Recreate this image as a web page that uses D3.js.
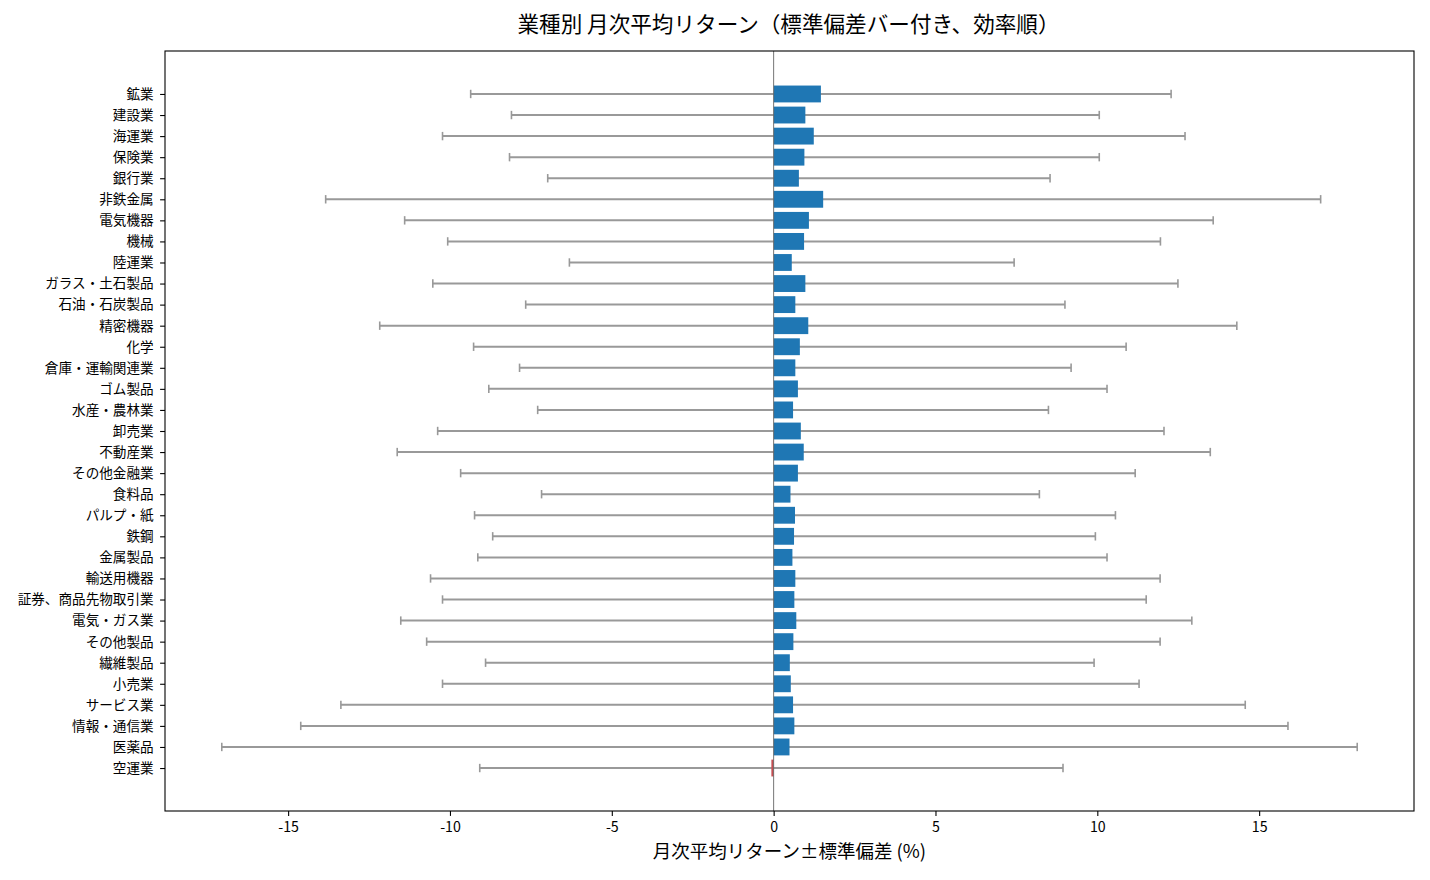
<!DOCTYPE html>
<html><head><meta charset="utf-8">
<script src="https://cdn.jsdelivr.net/npm/d3@7"></script>
<style>
body{margin:0;background:#fff;}
text{font-family:"Noto Sans CJK JP","Noto Sans",sans-serif;}
</style></head>
<body><svg id="chart" width="1430" height="880"></svg>
<script>
const categories = ["鉱業","建設業","海運業","保険業","銀行業","非鉄金属","電気機器","機械","陸運業","ガラス・土石製品","石油・石炭製品","精密機器","化学","倉庫・運輸関連業","ゴム製品","水産・農林業","卸売業","不動産業","その他金融業","食料品","パルプ・紙","鉄鋼","金属製品","輸送用機器","証券、商品先物取引業","電気・ガス業","その他製品","繊維製品","小売業","サービス業","情報・通信業","医薬品","空運業"];
const meanReturn = [1.46,0.98,1.24,0.95,0.78,1.53,1.09,0.94,0.56,0.98,0.67,1.07,0.81,0.67,0.75,0.60,0.84,0.93,0.75,0.52,0.66,0.63,0.58,0.67,0.64,0.70,0.61,0.50,0.53,0.60,0.64,0.49,-0.07];
const stdDev = [10.82,9.08,11.47,9.11,7.76,15.37,12.49,11.01,6.87,11.51,8.33,13.24,10.08,8.52,9.55,7.89,11.22,12.56,10.42,7.69,9.90,9.31,9.72,11.27,10.87,12.22,11.33,9.40,10.76,13.97,15.25,17.54,9.01];
const xTicks = [-15,-10,-5,0,5,10,15];

const svg = d3.select("#chart");
const L=165, R=1414, T=51, B=811;
const n = categories.length;
const lo = d3.min(meanReturn.map((m,i)=>m-stdDev[i]));
const hi = d3.max(meanReturn.map((m,i)=>m+stdDev[i]));
const mx = (hi-lo)*0.05;
const x = d3.scaleLinear().domain([lo-mx, hi+mx]).range([L,R]);
const ym = (n-1+0.8)*0.05;
const y = d3.scaleLinear().domain([-0.4-ym, n-1+0.4+ym]).range([T,B]);
const bh = y(0.8)-y(0);

const g = svg.append("g");
// error bars
const eb = g.append("g").attr("stroke","#999").attr("stroke-width",2);
categories.forEach((c,i)=>{
  const m=meanReturn[i], s=stdDev[i];
  eb.append("line").attr("x1",x(m-s)).attr("x2",x(m+s)).attr("y1",y(i)).attr("y2",y(i));
  [m-s,m+s].forEach(v=>eb.append("line").attr("stroke-width",1.6).attr("x1",x(v)).attr("x2",x(v)).attr("y1",y(i)-4.2).attr("y2",y(i)+4.2));
});
// bars
g.append("g").selectAll("rect").data(meanReturn).join("rect")
  .attr("x",d=>Math.min(x(0),x(d)))
  .attr("width",d=>Math.abs(x(d)-x(0)))
  .attr("y",(d,i)=>y(i)-bh/2).attr("height",bh)
  .attr("fill",d=>d>=0?"#1f77b4":"#c44e52");
// zero line
g.append("line").attr("x1",x(0)).attr("x2",x(0)).attr("y1",T).attr("y2",B)
  .attr("stroke","#666").attr("stroke-width",0.9);

// axes
const xAxis = svg.append("g").attr("transform",`translate(0,${B})`)
  .call(d3.axisBottom(x).tickValues(xTicks).tickSize(4.9).tickPadding(6.5).tickFormat(d=>d));
xAxis.select(".domain").remove();
xAxis.selectAll("text").attr("font-size",14.2).attr("fill","#000");
xAxis.selectAll("line").attr("stroke","#000").attr("stroke-width",1.1);

const yAxis = svg.append("g").attr("transform",`translate(${L},0)`)
  .call(d3.axisLeft(y).tickValues(d3.range(n)).tickSize(4.9).tickPadding(6.5).tickFormat(i=>categories[i]));
yAxis.select(".domain").remove();
yAxis.selectAll("text").attr("font-size",13.6).attr("fill","#000");
yAxis.selectAll("line").attr("stroke","#000").attr("stroke-width",1.1);

// frame
svg.append("rect").attr("x",L).attr("y",T).attr("width",R-L).attr("height",B-T)
  .attr("fill","none").attr("stroke","#000").attr("stroke-width",1.1);

svg.append("text").attr("x",(L+R)/2-1).attr("y",32).attr("text-anchor","middle")
  .attr("font-size",21.6).text("業種別 月次平均リターン（標準偏差バー付き、効率順）");
svg.append("text").attr("x",(L+R)/2).attr("y",858).attr("text-anchor","middle")
  .attr("font-size",18.5).text("月次平均リターン±標準偏差 (%)");
</script></body></html>
